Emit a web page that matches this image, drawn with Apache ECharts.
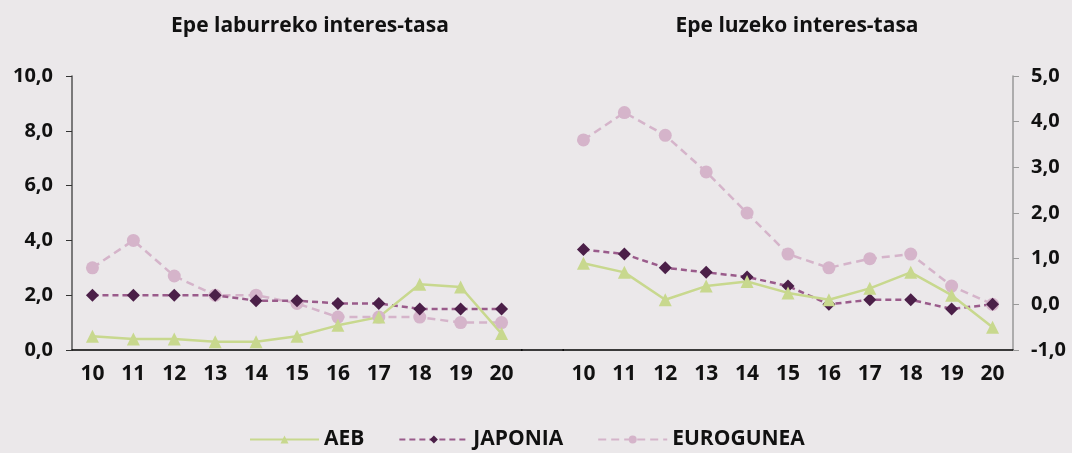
<!DOCTYPE html>
<html><head><meta charset="utf-8">
<script src="https://cdn.jsdelivr.net/npm/echarts@6/dist/echarts.min.js"></script>
<style>html,body{margin:0;padding:0;background:#ebe8ea;}#c{width:1072px;height:453px;}</style>
</head><body><div id="c"></div>
<script>
const categories = ['10','11','12','13','14','15','16','17','18','19','20'];
const shortAEB = [0.5,0.4,0.4,0.3,0.3,0.5,0.9,1.2,2.4,2.3,0.6];
const shortJaponia = [2.0,2.0,2.0,2.0,1.8,1.8,1.7,1.7,1.5,1.5,1.5];
const shortEurogunea = [3.0,4.0,2.7,2.0,2.0,1.7,1.2,1.2,1.2,1.0,1.0];
const longAEB = [0.9,0.7,0.1,0.4,0.5,0.25,0.1,0.35,0.7,0.2,-0.5];
const longJaponia = [1.2,1.1,0.8,0.7,0.6,0.4,0.0,0.1,0.1,-0.1,0.0];
const longEurogunea = [3.6,4.2,3.7,2.9,2.0,1.1,0.8,1.0,1.1,0.4,0.0];
const titles = ['Epe laburreko interes-tasa','Epe luzeko interes-tasa'];
const seriesNames = ['AEB','JAPONIA','EUROGUNEA'];

const FONT = '"Open Sans", sans-serif';
const C_AEB = '#c8d88e', C_JAP_LINE = '#9a5b8b', C_JAP_MARK = '#4b1f48', C_EUR = '#d5b4ca';
const fmt = v => v.toFixed(1).replace('.', ',');

function mk(name, data, idx){
  const base = {name, type:'line', data, xAxisIndex:idx, yAxisIndex:idx, z:3};
  if(name==='AEB') return Object.assign(base,{symbol:'triangle',symbolSize:13,
    lineStyle:{color:C_AEB,width:2.5,type:'solid'},itemStyle:{color:C_AEB}});
  if(name==='JAPONIA') return Object.assign(base,{symbol:'diamond',symbolSize:13,
    lineStyle:{color:C_JAP_LINE,width:2.5,type:[6,4]},itemStyle:{color:C_JAP_MARK}});
  return Object.assign(base,{symbol:'circle',symbolSize:13,
    lineStyle:{color:C_EUR,width:2.5,type:[8,5]},itemStyle:{color:C_EUR}});
}

const chart = echarts.init(document.getElementById('c'));
const xAx = gi => ({type:'category', gridIndex:gi, data:categories, boundaryGap:true,
  axisLine:{onZero:false,lineStyle:{color:'#000',width:1.5}}, axisTick:{show:false},
  axisLabel:{color:'#111',fontFamily:FONT,fontWeight:'bold',fontSize:21,margin:14}});
chart.setOption({
  backgroundColor:'#ebe8ea',
  animation:false,
  title:[
    {text:titles[0],left:305,top:11,textAlign:'center',textStyle:{fontFamily:FONT,fontWeight:'bold',fontSize:21,color:'#111'}},
    {text:titles[1],left:792,top:11,textAlign:'center',textStyle:{fontFamily:FONT,fontWeight:'bold',fontSize:21,color:'#111'}}
  ],
  legend:{data:seriesNames,top:424,left:244,itemWidth:69,itemHeight:10,itemGap:34,
    textStyle:{fontFamily:FONT,fontWeight:'bold',fontSize:21,color:'#111'}},
  grid:[{left:72,top:76,width:450,height:274},{left:563,top:76,width:450,height:274}],
  xAxis:[xAx(0),xAx(1)],
  yAxis:[
    {type:'value',gridIndex:0,min:0,max:10,interval:2,splitLine:{show:false},
     axisLine:{show:true,lineStyle:{color:'#555',width:1.5}},axisTick:{show:true,length:6,lineStyle:{color:'#333'}},
     axisLabel:{formatter:fmt,color:'#111',fontFamily:FONT,fontWeight:'bold',fontSize:20,margin:19}},
    {type:'value',gridIndex:1,position:'right',min:-1,max:5,interval:1,splitLine:{show:false},
     axisLine:{show:true,lineStyle:{color:'#999',width:1.5}},axisTick:{show:true,length:6,lineStyle:{color:'#999'}},
     axisLabel:{formatter:fmt,color:'#111',fontFamily:FONT,fontWeight:'bold',fontSize:20,margin:18}}
  ],
  graphic:[{type:'line',shape:{x1:521,y1:350,x2:564,y2:350},style:{stroke:'#000',lineWidth:1.5},silent:true}],
  series:[
    mk('EUROGUNEA',shortEurogunea,0), mk('JAPONIA',shortJaponia,0), mk('AEB',shortAEB,0),
    mk('EUROGUNEA',longEurogunea,1), mk('JAPONIA',longJaponia,1), mk('AEB',longAEB,1)
  ]
});
</script></body></html>
